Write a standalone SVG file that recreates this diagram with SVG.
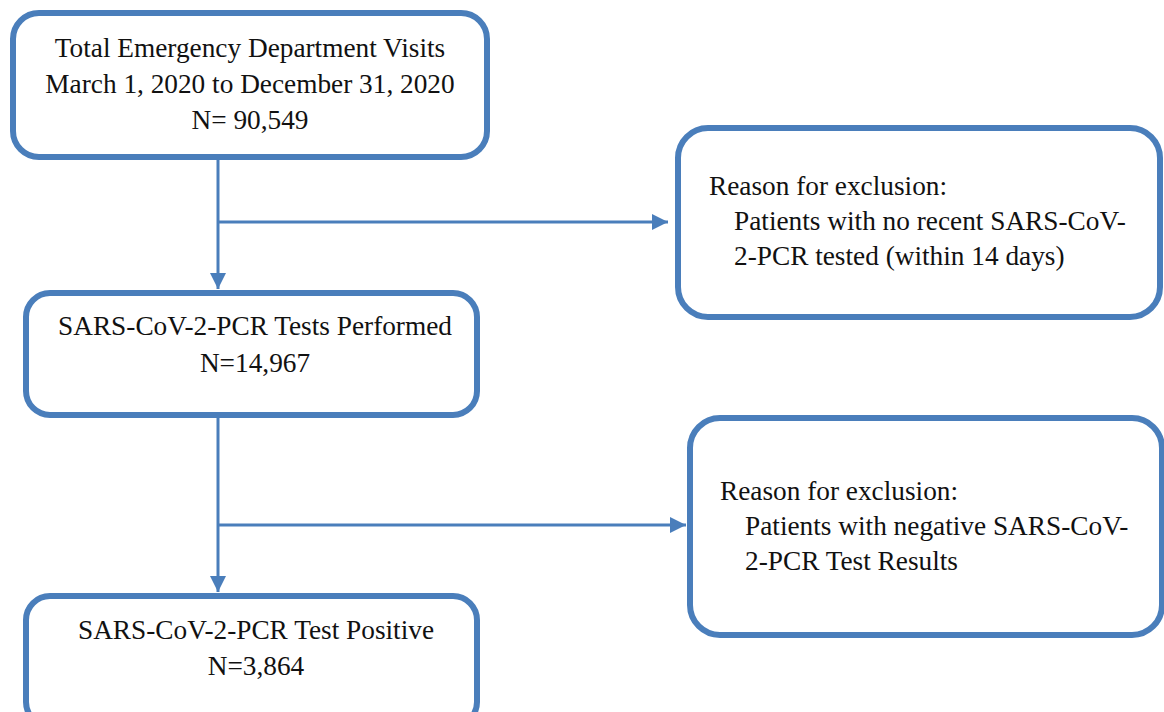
<svg xmlns="http://www.w3.org/2000/svg" width="1164" height="712" viewBox="0 0 1164 712">
<style>
.box{fill:#fff;stroke:#4A7EBB;stroke-width:6}
.ln{stroke:#4A7EBB;stroke-width:3;fill:none}
text{font-family:'Liberation Serif','Times New Roman','DejaVu Serif',serif;font-size:27.3px;fill:#111}
.c{text-anchor:middle}
</style>
<defs>
<marker id="ah" viewBox="0 0 10 10" refX="10" refY="5" markerWidth="5.5" markerHeight="5.5" orient="auto" markerUnits="strokeWidth">
<path d="M0,0L10,5L0,10z" fill="#4A7EBB"/>
</marker>
</defs>
<g id="connectors">
<line class="ln" x1="218" y1="160" x2="218" y2="289" marker-end="url(#ah)"/>
<line class="ln" x1="218" y1="222" x2="668" y2="222" marker-end="url(#ah)"/>
<line class="ln" x1="218" y1="418" x2="218" y2="592" marker-end="url(#ah)"/>
<line class="ln" x1="218" y1="525" x2="686" y2="525" marker-end="url(#ah)"/>
</g>
<g id="n1">
<rect class="box" x="13" y="13" width="474" height="144" rx="26"/>
<text class="c" x="250" y="57">Total Emergency Department Visits</text>
<text class="c" x="250" y="93">March 1, 2020 to December 31, 2020</text>
<text class="c" x="250" y="129">N= 90,549</text>
</g>
<g id="n2">
<rect class="box" x="26" y="293" width="451" height="122" rx="24"/>
<text class="c" x="255" y="335">SARS-CoV-2-PCR Tests Performed</text>
<text class="c" x="255" y="372">N=14,967</text>
</g>
<g id="n3">
<rect class="box" x="26" y="596" width="451" height="130" rx="24"/>
<text class="c" x="256" y="639">SARS-CoV-2-PCR Test Positive</text>
<text class="c" x="256" y="675">N=3,864</text>
</g>
<g id="x1">
<rect class="box" x="678" y="128" width="482" height="189" rx="30"/>
<text x="709" y="195">Reason for exclusion:</text>
<text x="734" y="230">Patients with no recent SARS-CoV-</text>
<text x="734" y="265">2-PCR tested (within 14 days)</text>
</g>
<g id="x2">
<rect class="box" x="690" y="418" width="472" height="217" rx="30"/>
<text x="720" y="500">Reason for exclusion:</text>
<text x="745" y="535">Patients with negative SARS-CoV-</text>
<text x="745" y="570">2-PCR Test Results</text>
</g>
</svg>
